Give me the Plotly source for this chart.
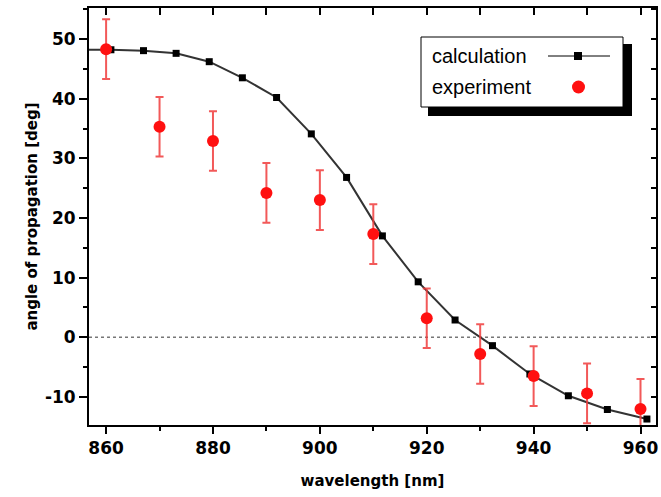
import plotly.graph_objects as go

# Data
calc_x = [854.7, 860.9, 867.0, 873.1, 879.3, 885.5, 891.9, 898.4, 905.0, 911.7,
          918.4, 925.3, 932.3, 939.3, 946.5, 953.8, 961.2]
calc_y = [48.2, 48.2, 48.05, 47.6, 46.2, 43.5, 40.2, 34.1, 26.8, 17.0,
          9.3, 2.9, -1.4, -6.15, -9.8, -12.1, -13.7]
exp_x = [860, 870, 880, 890, 900, 910, 920, 930, 940, 950, 960]
exp_y = [48.3, 35.3, 32.9, 24.2, 23.0, 17.3, 3.2, -2.8, -6.5, -9.4, -12.0]
exp_err = [5, 5, 5, 5, 5, 5, 5, 5, 5, 5, 5]
y_tickvals = [-10, 0, 10, 20, 30, 40, 50]
y_ticktext = ["-10", "0", "10", "20", "30", "40", "50"]
x_tickvals = [860, 880, 900, 920, 940, 960]
x_ticktext = ["860", "880", "900", "920", "940", "960"]

W, H = 661, 497
L, R, T, B = 89, 656, 8, 425

def px(x):
    return (x - L) / (R - L)

def py(y):
    return (B - y) / (B - T)

fig = go.Figure()

fig.add_trace(go.Scatter(
    x=calc_x, y=calc_y, mode="lines+markers",
    line=dict(color="#333333", width=2),
    marker=dict(symbol="square", size=7, color="black"),
    showlegend=False, cliponaxis=True))

fig.add_trace(go.Scatter(
    x=exp_x, y=exp_y, mode="markers",
    marker=dict(symbol="circle", size=12, color="#ff1010"),
    error_y=dict(type="data", array=exp_err, visible=True,
                 color="rgba(240,60,60,0.85)", thickness=2, width=4),
    showlegend=False, cliponaxis=False))

tickfont = dict(family="DejaVu Sans", size=17, color="black", weight="bold")
titlefont = dict(family="DejaVu Sans", size=15, color="black", weight="bold")

fig.update_layout(
    width=W, height=H,
    margin=dict(l=L, r=W - R, t=T, b=H - B, autoexpand=False),
    plot_bgcolor="white", paper_bgcolor="white",
    showlegend=False,
    xaxis=dict(range=[856.8, 962.9], tickvals=x_tickvals, ticktext=x_ticktext, automargin=False,
               ticks="outside", ticklen=7, tickwidth=2, tickcolor="black",
               minor=dict(dtick=10, tick0=860, ticks="outside", ticklen=4, tickwidth=2, tickcolor="black"),
               showline=True, linewidth=2, linecolor="black", mirror=True,
               showgrid=False, zeroline=False, tickfont=tickfont,
               title=dict(text="wavelength [nm]", font=titlefont, standoff=18)),
    yaxis=dict(range=[-14.7, 55.2], tickvals=y_tickvals, ticktext=y_ticktext, automargin=False,
               ticks="outside", ticklen=8, tickwidth=2, tickcolor="black",
               minor=dict(dtick=5, tick0=0, ticks="outside", ticklen=4, tickwidth=2, tickcolor="black"),
               showline=True, linewidth=2, linecolor="black", mirror=True,
               showgrid=False, zeroline=False, tickfont=tickfont,
               title=dict(text="angle of propagation [deg]", font=titlefont, standoff=4)),
    xaxis2=dict(overlaying="x", side="top", matches="x", range=[856.8, 962.9], automargin=False,
                dtick=10, tick0=860, ticks="inside", ticklen=7, tickwidth=2, tickcolor="black",
                showticklabels=False, showgrid=False, zeroline=False, showline=False),
    yaxis2=dict(overlaying="y", side="right", matches="y", range=[-14.7, 55.2], automargin=False,
                dtick=5, tick0=0, ticks="inside", ticklen=5, tickwidth=2, tickcolor="black",
                showticklabels=False, showgrid=False, zeroline=False, showline=False),
)

fig.add_trace(go.Scatter(x=[None], y=[None], xaxis="x2", yaxis="y2", showlegend=False))

# zero line
fig.add_shape(type="line", xref="paper", yref="y", x0=0, x1=1, y0=0, y1=0,
              line=dict(color="#777777", width=1.5, dash="dot"), layer="below")

# legend box with shadow
fig.add_shape(type="rect", xref="paper", yref="paper",
              x0=px(428), x1=px(632), y0=py(116), y1=py(44),
              fillcolor="black", line=dict(width=0))
fig.add_shape(type="rect", xref="paper", yref="paper",
              x0=px(421), x1=px(623), y0=py(107), y1=py(37),
              fillcolor="white", line=dict(color="black", width=1))
fig.add_shape(type="line", xref="paper", yref="paper",
              x0=px(548), x1=px(610), y0=py(56), y1=py(56),
              line=dict(color="black", width=1))
fig.add_shape(type="rect", xref="paper", yref="paper",
              x0=px(574), x1=px(582), y0=py(60), y1=py(52),
              fillcolor="black", line=dict(width=0))
fig.add_shape(type="circle", xref="paper", yref="paper",
              x0=px(572), x1=px(585), y0=py(93.5), y1=py(80.5),
              fillcolor="#ff1010", line=dict(width=0))

legfont = dict(family="Liberation Sans", size=20, color="black")
fig.add_annotation(xref="paper", yref="paper", x=px(430), y=py(56), text="calculation",
                   showarrow=False, xanchor="left", yanchor="middle", font=legfont)
fig.add_annotation(xref="paper", yref="paper", x=px(430), y=py(87), text="experiment",
                   showarrow=False, xanchor="left", yanchor="middle", font=legfont)

fig.write_html("out.html", config={"displayModeBar": False},
               post_script="document.body.style.margin='0';document.body.style.overflow='hidden';")
